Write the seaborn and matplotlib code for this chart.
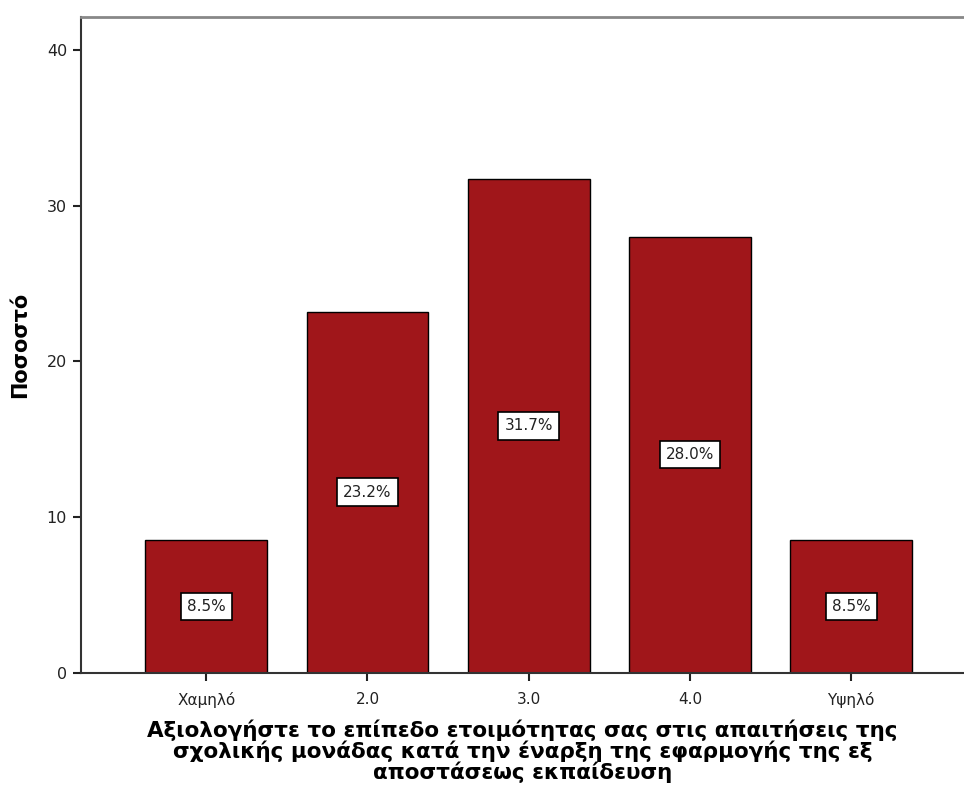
import matplotlib
matplotlib.use("Agg")
import matplotlib.pyplot as plt
import seaborn as sns
import pandas as pd

categories = ["Χαμηλό", "2.0", "3.0", "4.0", "Υψηλό"]
percentages = [8.5, 23.2, 31.7, 28.0, 8.5]
y_ticks = [0, 10, 20, 30, 40]
x_label = ("Αξιολογήστε το επίπεδο ετοιμότητας σας στις απαιτήσεις της\n"
           "σχολικής μονάδας κατά την έναρξη της εφαρμογής της εξ\n"
           "αποστάσεως εκπαίδευση")
y_label = "Ποσοστό"

sns.set_theme(style="white")
plt.rcParams["font.family"] = ["DejaVu Sans"]

df = pd.DataFrame({"cat": categories, "pct": percentages})

fig = plt.figure(figsize=(9.64, 7.89), dpi=100)
ax = fig.add_axes([0.084, 0.1476, 0.916, 0.831])

sns.barplot(data=df, x="cat", y="pct", order=categories, color="#A0161A",
            saturation=1, width=0.756, edgecolor="black", linewidth=1.0, ax=ax)

for i, v in enumerate(percentages):
    ax.text(i, v / 2, f"{v:.1f}%", ha="center", va="center", fontsize=11,
            color="#222222",
            bbox=dict(boxstyle="square,pad=0.4", facecolor="white",
                      edgecolor="black", linewidth=1.2))

ax.set_xlim(-0.777, 4.70)
ax.set_ylim(0, 42.15)
ax.set_yticks(y_ticks)
ax.set_yticklabels([str(t) for t in y_ticks], fontsize=11.5, color="#222222")
ax.set_xticks(range(len(categories)))
ax.set_xticklabels(categories, fontsize=11, color="#222222")

ax.tick_params(axis="both", which="major", direction="out", length=6,
               width=1.5, color="#222222", bottom=True, left=True, pad=4)
ax.tick_params(axis="x", pad=8)

for s in ["left", "bottom"]:
    ax.spines[s].set_color("#333333")
    ax.spines[s].set_linewidth(1.5)
ax.spines["top"].set_color("#888888")
ax.spines["top"].set_linewidth(2)
ax.spines["right"].set_visible(False)

ax.set_xlabel(x_label, fontsize=15.5, fontweight="bold", labelpad=8,
              linespacing=0.98, color="black")
ax.set_ylabel(y_label, fontsize=15, fontweight="bold", labelpad=12,
              color="black")

fig.savefig("out.png", dpi=100)
